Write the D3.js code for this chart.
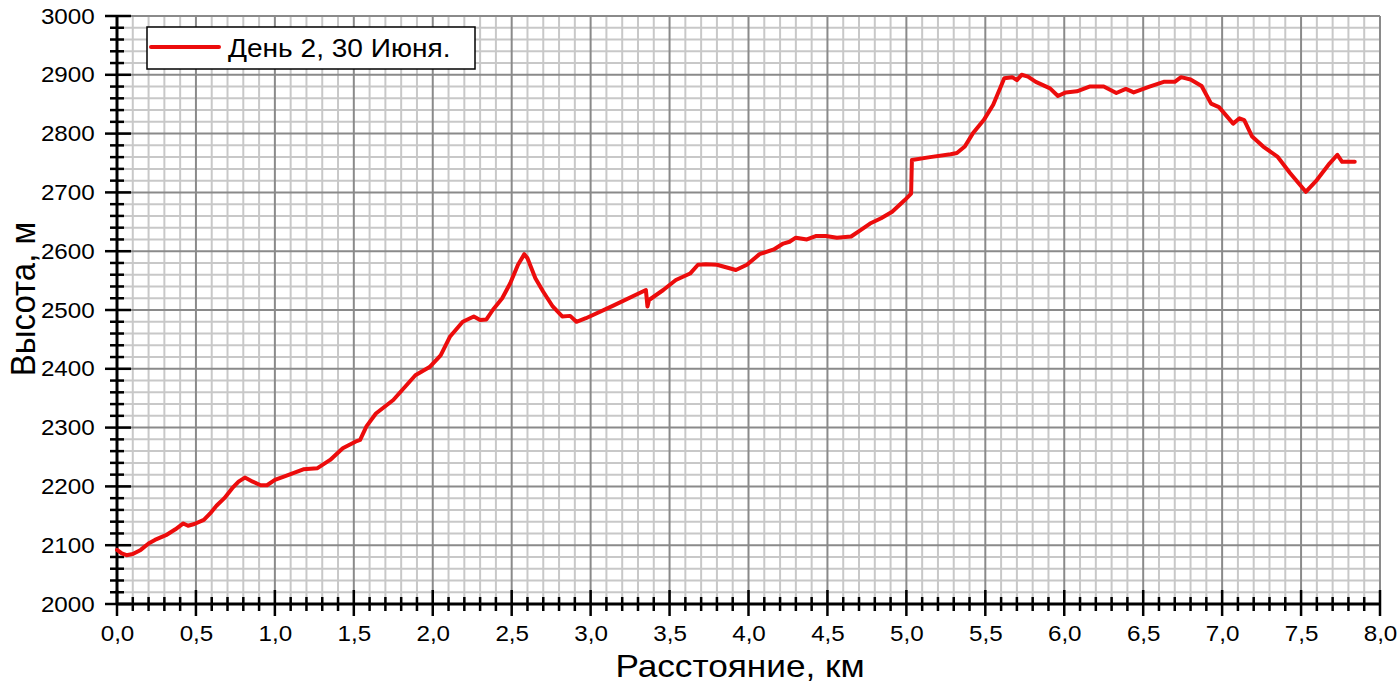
<!DOCTYPE html>
<html><head><meta charset="utf-8">
<script src="https://cdn.jsdelivr.net/npm/d3@7"></script>
<style>body{margin:0;background:#fff}svg{display:block}</style>
</head><body>
<svg id="c" width="1400" height="689"></svg>
<script>
const distanceKm = [0,0.03,0.06,0.10,0.15,0.20,0.24,0.31,0.37,0.42,0.45,0.49,0.55,0.59,0.63,0.68,0.73,0.77,0.81,0.86,0.91,0.95,1.00,1.07,1.18,1.27,1.35,1.43,1.51,1.54,1.58,1.64,1.75,1.89,1.98,2.05,2.11,2.19,2.26,2.30,2.34,2.38,2.44,2.49,2.54,2.58,2.60,2.65,2.70,2.76,2.82,2.87,2.91,2.97,3.14,3.35,3.36,3.37,3.46,3.54,3.63,3.68,3.73,3.80,3.92,3.99,4.07,4.16,4.22,4.26,4.30,4.37,4.43,4.49,4.56,4.65,4.71,4.77,4.84,4.91,4.99,5.03,5.035,5.15,5.28,5.32,5.37,5.42,5.49,5.55,5.62,5.67,5.70,5.73,5.77,5.82,5.91,5.96,6.01,6.08,6.16,6.25,6.33,6.39,6.44,6.54,6.63,6.70,6.74,6.80,6.87,6.93,6.98,7.07,7.11,7.14,7.19,7.26,7.35,7.43,7.53,7.60,7.68,7.73,7.76,7.84];
const elevationM = [2092,2086,2083,2085,2092,2103,2109,2117,2127,2137,2133,2136,2143,2154,2167,2180,2197,2208,2215,2208,2202,2202,2211,2218,2229,2231,2245,2265,2276,2279,2302,2324,2347,2389,2403,2423,2455,2480,2489,2483,2484,2500,2520,2545,2577,2595,2588,2554,2531,2506,2489,2490,2480,2486,2507,2534,2506,2517,2534,2551,2562,2577,2578,2577,2568,2577,2595,2603,2613,2616,2623,2620,2626,2626,2623,2625,2636,2647,2656,2667,2687,2698,2755,2760,2765,2767,2778,2800,2823,2849,2894,2896,2891,2900,2897,2888,2877,2864,2870,2872,2880,2880,2869,2876,2870,2880,2888,2888,2896,2892,2881,2851,2845,2817,2826,2823,2795,2778,2761,2733,2701,2721,2749,2764,2752,2752];
const xTickLabels = ["0,0","0,5","1,0","1,5","2,0","2,5","3,0","3,5","4,0","4,5","5,0","5,5","6,0","6,5","7,0","7,5","8,0"];
const yTickLabels = ["2000","2100","2200","2300","2400","2500","2600","2700","2800","2900","3000"];
const seriesName = "День 2, 30 Июня.";

const svg = d3.select("#c");
const L = 117, R = 1380, T = 16, B = 604;
const x = d3.scaleLinear().domain([0, 8]).range([L, R]);
const y = d3.scaleLinear().domain([2000, 3000]).range([B, T]);
const font = "Arial, 'Liberation Sans', sans-serif";
const red = "#ec0c0c";

// minor grid
const xMinor = d3.range(0, 80.5, 1).map(v => v / 10);
const yMinor = d3.range(2000, 3001, 20);
const g = svg.append("g");
g.selectAll(".vm").data(xMinor.filter((v, i) => i % 5 !== 0)).join("line")
  .attr("x1", d => x(d)).attr("x2", d => x(d)).attr("y1", T).attr("y2", B)
  .attr("stroke", "#c8c8c8").attr("stroke-width", 2);
g.selectAll(".hm").data(yMinor.filter(v => v % 100 !== 0)).join("line")
  .attr("x1", L).attr("x2", R).attr("y1", d => y(d)).attr("y2", d => y(d))
  .attr("stroke", "#c8c8c8").attr("stroke-width", 2);
// major grid
g.selectAll(".vM").data(xMinor.filter((v, i) => i % 5 === 0 && i > 0)).join("line")
  .attr("x1", d => x(d)).attr("x2", d => x(d)).attr("y1", T).attr("y2", B)
  .attr("stroke", "#8a8a8a").attr("stroke-width", 2);
g.selectAll(".hM").data(yMinor.filter(v => v % 100 === 0 && v > 2000)).join("line")
  .attr("x1", L).attr("x2", R).attr("y1", d => y(d)).attr("y2", d => y(d))
  .attr("stroke", "#8a8a8a").attr("stroke-width", 2);

// axis ticks and lines
const ax = svg.append("g");
ax.selectAll(".xt").data(xMinor).join("line")
  .attr("x1", d => x(d)).attr("x2", d => x(d))
  .attr("y1", (d, i) => i % 5 === 0 ? B - 14 : B - 7)
  .attr("y2", (d, i) => i % 5 === 0 ? B + 12 : B + 7)
  .attr("stroke", "#000").attr("stroke-width", 2.5);
ax.selectAll(".yt").data(yMinor).join("line")
  .attr("y1", d => y(d)).attr("y2", d => y(d))
  .attr("x1", d => d % 100 === 0 ? L - 12 : L - 7)
  .attr("x2", d => d % 100 === 0 ? L + 14 : L + 7)
  .attr("stroke", "#000").attr("stroke-width", 2.5);
ax.append("line").attr("x1", L).attr("x2", R).attr("y1", B).attr("y2", B).attr("stroke", "#000").attr("stroke-width", 3);
ax.append("line").attr("x1", L).attr("x2", L).attr("y1", T).attr("y2", B).attr("stroke", "#000").attr("stroke-width", 3);

const xAxis = d3.axisBottom(x).tickValues(d3.range(0, 8.01, 0.5)).tickSize(0)
  .tickFormat((d, i) => xTickLabels[i]);
svg.append("g").attr("transform", `translate(0,${B + 18})`).call(xAxis)
  .call(s => s.select(".domain").remove())
  .selectAll("text").attr("font-family", font).attr("font-size", 22).attr("fill", "#000")
  .attr("transform", "scale(1.1,1)");

const yAxis = d3.axisLeft(y).tickValues(d3.range(2000, 3001, 100)).tickSize(0)
  .tickFormat((d, i) => yTickLabels[i]);
svg.append("g").attr("transform", `translate(${L - 19},0)`).call(yAxis)
  .call(s => s.select(".domain").remove())
  .selectAll("text").attr("font-family", font).attr("font-size", 22).attr("fill", "#000")
  .attr("transform", "scale(1.1,1)");

// titles
svg.append("text").attr("transform", "translate(740,677) scale(1.1,1)").attr("text-anchor", "middle")
  .attr("font-family", font).attr("font-size", 32).text("Расстояние, км");
svg.append("text").attr("transform", `translate(35,299) rotate(-90) scale(1,1.05)`).attr("text-anchor", "middle")
  .attr("font-family", font).attr("font-size", 33).text("Высота, м");

// line
const line = d3.line().x((d, i) => x(distanceKm[i])).y(d => y(d));
svg.append("path").datum(elevationM).attr("d", line)
  .attr("fill", "none").attr("stroke", red).attr("stroke-width", 4)
  .attr("stroke-linejoin", "round").attr("stroke-linecap", "round");

// legend
const lg = svg.append("g");
lg.append("rect").attr("x", 147).attr("y", 27).attr("width", 328).attr("height", 42)
  .attr("fill", "#fff").attr("stroke", "#000").attr("stroke-width", 1.5);
lg.append("line").attr("x1", 151).attr("x2", 219).attr("y1", 47).attr("y2", 47)
  .attr("stroke", red).attr("stroke-width", 4).attr("stroke-linecap", "round");
lg.append("text").attr("transform", "translate(228,57) scale(1.08,1)")
  .attr("font-family", font).attr("font-size", 26).text(seriesName);
</script>
</body></html>
